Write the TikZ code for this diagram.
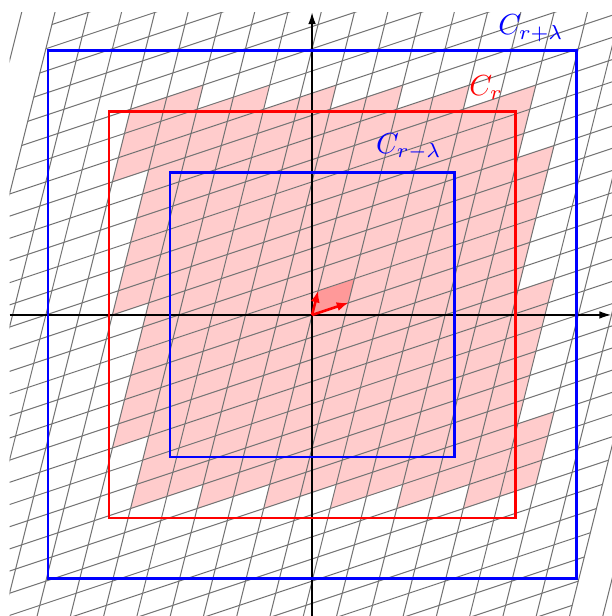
\documentclass[tikz,border=0pt]{standalone}
\usepackage{amsmath,amssymb}
\usepackage{xcolor}
\usepackage{tikz}
\usetikzlibrary{arrows.meta}

\begin{document}
\begin{tikzpicture}[
      x=4.17pt, y=4.17pt,
      lat/.style={black!55, line width=0.35pt},
      cell/.style={fill=red!20},
      sq/.style={line width=1pt},
      vec/.style={-{Latex[length=4pt, width=3.2pt]}, red, line width=0.9pt},
      axis/.style={-{Latex[length=4pt, width=2.6pt]}, line width=0.4pt},
    ]
    \useasboundingbox (-25.79,-24.88) rectangle (24.71,26.03);
    % cells whose base point lies in C_r
    \foreach \i in {-8,...,8} {
      \foreach \j in {-12,...,12} {
        \pgfmathsetmacro{\vx}{3*\i+0.5*\j}
        \pgfmathsetmacro{\vy}{\i+2*\j}
        \pgfmathtruncatemacro{\inside}{and(abs(\vx)<16.79, abs(\vy)<16.79)}
        \ifnum\inside=1
          \fill[cell] (\vx,\vy) -- ++(3,1) -- ++(0.5,2) -- ++(-3,-1) -- cycle;
        \fi
      }
    }
    % fundamental cell
    \fill[red!40] (0,0) -- (3,1) -- (3.5,3) -- (0.5,2) -- cycle;
    % lattice
    \begin{scope}
      \clip (-25,-25) rectangle (25,25);
      \foreach \j in {-19,...,19}
        \draw[lat] (0.5*\j-30, 2*\j-10) -- (0.5*\j+30, 2*\j+10);
      \foreach \i in {-12,...,12}
        \draw[lat] (3*\i-10, \i-40) -- (3*\i+10, \i+40);
    \end{scope}
    % axes
    \draw[axis] (-25,0) -- (24.71,0);
    \draw[axis] (0,-24.88) -- (0,25);
    % squares
    \draw[sq, blue] (-21.82,-21.78) rectangle (21.82,21.82);
    \draw[sq, red] (-16.78,-16.78) rectangle (16.78,16.78);
    \draw[sq, blue] (-11.74,-11.74) rectangle (11.74,11.74);
    % basis vectors
    \draw[vec] (0,0) -- (3,1);
    \draw[vec] (0,0) -- (0.5,2);
    % labels
    \node[blue] (lbig) at (18.1,23.7) {$C_{r+\lambda}$};
    \node[red] (lmid) at (14.4,18.8) {$C_r$};
    \node[blue] (lsmall) at (8.0,13.9) {$C_{r-\lambda}$};
  \end{tikzpicture}
\end{document}
